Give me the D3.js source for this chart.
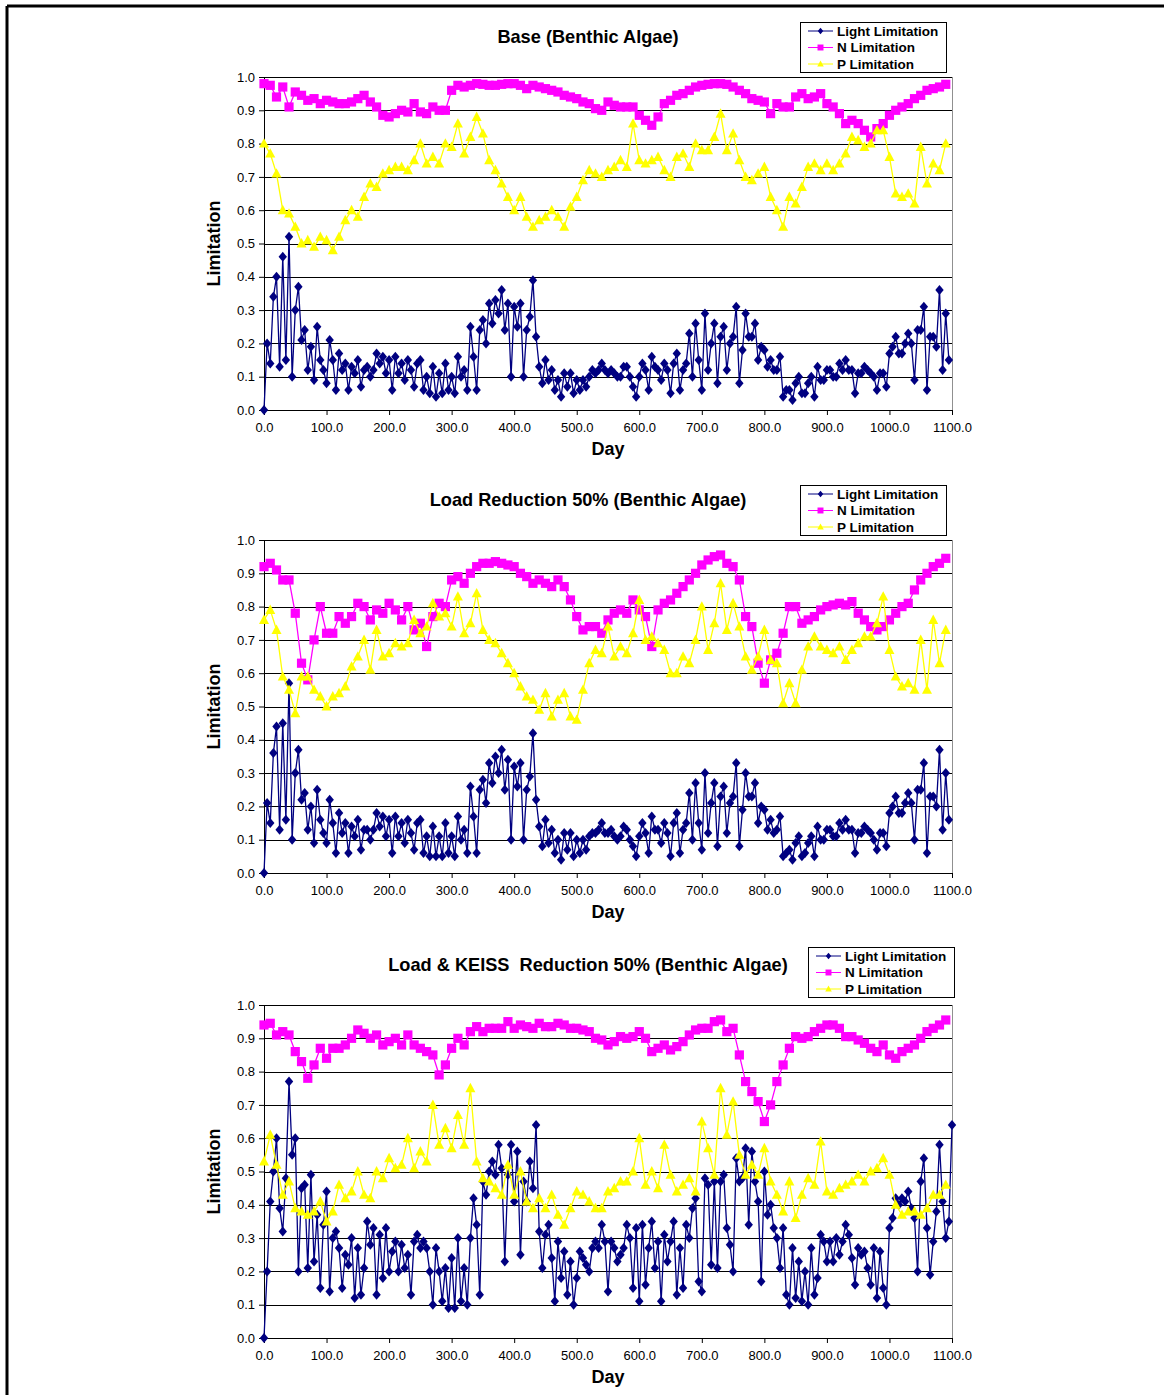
<!DOCTYPE html>
<html>
<head>
<meta charset="utf-8">
<script src="https://cdn.jsdelivr.net/npm/d3@7"></script>
<style>
  body { margin: 0; background: #fff; }
  svg { display: block; font-family: "Liberation Sans", Arial, sans-serif; }
</style>
</head>
<body>
<div id="chart"></div>
<script>
// tick labels and names
var xTicks = [0, 100, 200, 300, 400, 500, 600, 700, 800, 900, 1000, 1100];
var yTicks = [0, 0.1, 0.2, 0.3, 0.4, 0.5, 0.6, 0.7, 0.8, 0.9, 1.0];
var seriesNames = ["Light Limitation", "N Limitation", "P Limitation"];
var titles = ["Base (Benthic Algae)", "Load Reduction 50% (Benthic Algae)", "Load & KEISS  Reduction 50% (Benthic Algae)"];

// days between samples (light read every 5 days, N and P every 10 days)
var lightStep = 5, nutStep = 10;

// ---- Base ----
var baseLight = [
  0.00,0.20,0.14,0.34,0.40,0.13,0.46,0.15,0.52,0.10,
  0.30,0.37,0.21,0.24,0.12,0.19,0.09,0.25,0.15,0.12,
  0.08,0.21,0.15,0.06,0.17,0.12,0.14,0.06,0.13,0.11,
  0.15,0.07,0.12,0.13,0.10,0.12,0.17,0.14,0.16,0.11,
  0.15,0.06,0.16,0.11,0.14,0.09,0.15,0.12,0.07,0.14,
  0.15,0.06,0.10,0.05,0.13,0.04,0.11,0.05,0.14,0.06,
  0.10,0.05,0.16,0.10,0.12,0.06,0.25,0.16,0.06,0.24,
  0.27,0.20,0.32,0.26,0.33,0.29,0.36,0.24,0.32,0.10,
  0.31,0.25,0.32,0.10,0.24,0.28,0.39,0.22,0.13,0.08,
  0.15,0.09,0.12,0.06,0.09,0.04,0.11,0.07,0.11,0.05,
  0.09,0.06,0.09,0.07,0.10,0.12,0.11,0.12,0.14,0.12,
  0.11,0.12,0.11,0.10,0.10,0.13,0.13,0.10,0.07,0.04,
  0.10,0.14,0.12,0.06,0.16,0.13,0.12,0.09,0.14,0.12,
  0.05,0.14,0.17,0.06,0.12,0.14,0.23,0.10,0.26,0.15,
  0.06,0.29,0.12,0.20,0.26,0.08,0.22,0.25,0.12,0.20,
  0.22,0.31,0.08,0.18,0.29,0.22,0.22,0.26,0.15,0.19,
  0.18,0.13,0.15,0.12,0.12,0.16,0.04,0.06,0.06,0.03,
  0.08,0.10,0.05,0.05,0.08,0.10,0.04,0.13,0.09,0.09,
  0.12,0.12,0.10,0.10,0.14,0.12,0.15,0.12,0.12,0.05,
  0.11,0.11,0.13,0.12,0.11,0.10,0.06,0.11,0.11,0.07,
  0.17,0.19,0.22,0.17,0.17,0.20,0.23,0.20,0.09,0.24,
  0.24,0.31,0.06,0.22,0.22,0.19,0.36,0.12,0.29,0.15
];
var baseN = [
  0.98,0.975,0.94,0.97,0.91,0.955,0.945,0.93,0.935,0.92,
  0.93,0.925,0.92,0.92,0.925,0.935,0.945,0.925,0.91,0.885,
  0.88,0.89,0.90,0.895,0.92,0.895,0.89,0.91,0.90,0.90,
  0.96,0.975,0.97,0.975,0.98,0.978,0.975,0.975,0.978,0.98,
  0.98,0.975,0.965,0.975,0.97,0.965,0.96,0.955,0.945,0.94,
  0.935,0.925,0.92,0.905,0.90,0.925,0.915,0.91,0.91,0.91,
  0.885,0.87,0.855,0.88,0.92,0.93,0.945,0.95,0.96,0.97,
  0.975,0.978,0.98,0.98,0.978,0.97,0.96,0.95,0.935,0.93,
  0.925,0.89,0.92,0.91,0.91,0.94,0.95,0.935,0.94,0.95,
  0.92,0.91,0.89,0.86,0.87,0.86,0.84,0.82,0.845,0.86,
  0.885,0.90,0.91,0.92,0.935,0.945,0.96,0.965,0.97,0.978
];
var baseP = [
  0.80,0.77,0.71,0.60,0.59,0.55,0.50,0.51,0.49,0.52,
  0.51,0.48,0.52,0.57,0.60,0.58,0.64,0.68,0.67,0.71,
  0.72,0.73,0.73,0.72,0.75,0.80,0.74,0.76,0.74,0.80,
  0.79,0.86,0.77,0.82,0.88,0.83,0.75,0.72,0.68,0.64,
  0.60,0.64,0.58,0.55,0.57,0.58,0.60,0.58,0.55,0.61,
  0.64,0.69,0.72,0.71,0.70,0.72,0.73,0.75,0.73,0.86,
  0.75,0.74,0.75,0.76,0.72,0.70,0.76,0.77,0.73,0.80,
  0.78,0.78,0.82,0.89,0.78,0.83,0.75,0.70,0.69,0.71,
  0.73,0.64,0.60,0.55,0.64,0.62,0.67,0.73,0.74,0.72,
  0.74,0.72,0.74,0.77,0.82,0.81,0.79,0.80,0.84,0.84,
  0.76,0.65,0.64,0.65,0.62,0.79,0.68,0.74,0.72,0.80
];

// ---- Load Reduction 50% ----
var loadLight = [
  0.00,0.21,0.15,0.36,0.44,0.13,0.45,0.16,0.57,0.10,
  0.30,0.37,0.22,0.24,0.13,0.20,0.09,0.25,0.16,0.12,
  0.09,0.22,0.15,0.06,0.18,0.12,0.15,0.06,0.14,0.11,
  0.16,0.07,0.13,0.13,0.10,0.13,0.18,0.14,0.17,0.11,
  0.16,0.06,0.17,0.11,0.15,0.09,0.16,0.12,0.07,0.15,
  0.16,0.06,0.11,0.05,0.14,0.05,0.11,0.05,0.15,0.06,
  0.11,0.05,0.17,0.10,0.13,0.06,0.26,0.17,0.06,0.25,
  0.28,0.21,0.33,0.27,0.35,0.30,0.37,0.25,0.34,0.10,
  0.32,0.26,0.33,0.10,0.25,0.29,0.42,0.22,0.14,0.08,
  0.16,0.09,0.13,0.06,0.10,0.04,0.12,0.07,0.12,0.05,
  0.10,0.06,0.10,0.07,0.11,0.12,0.12,0.13,0.15,0.12,
  0.12,0.13,0.11,0.10,0.11,0.14,0.13,0.10,0.08,0.05,
  0.11,0.15,0.12,0.06,0.17,0.13,0.13,0.09,0.15,0.12,
  0.05,0.15,0.18,0.06,0.13,0.15,0.24,0.10,0.27,0.15,
  0.07,0.30,0.12,0.21,0.27,0.08,0.23,0.26,0.12,0.21,
  0.23,0.33,0.08,0.19,0.30,0.23,0.23,0.27,0.15,0.20,
  0.19,0.13,0.16,0.12,0.13,0.17,0.05,0.06,0.07,0.04,
  0.09,0.11,0.05,0.06,0.09,0.11,0.05,0.14,0.10,0.10,
  0.13,0.13,0.11,0.11,0.15,0.13,0.16,0.13,0.13,0.06,
  0.12,0.12,0.14,0.13,0.12,0.10,0.07,0.12,0.12,0.08,
  0.18,0.20,0.23,0.18,0.18,0.21,0.24,0.21,0.10,0.25,
  0.25,0.33,0.06,0.23,0.23,0.20,0.37,0.13,0.30,0.16
];
var loadN = [
  0.92,0.93,0.91,0.88,0.88,0.78,0.63,0.58,0.70,0.80,
  0.72,0.72,0.77,0.75,0.77,0.81,0.80,0.76,0.79,0.78,
  0.81,0.79,0.76,0.80,0.73,0.75,0.68,0.77,0.81,0.80,
  0.88,0.89,0.87,0.90,0.92,0.93,0.93,0.935,0.93,0.925,
  0.92,0.90,0.89,0.87,0.88,0.87,0.86,0.88,0.86,0.82,
  0.77,0.73,0.74,0.74,0.72,0.76,0.78,0.79,0.78,0.82,
  0.79,0.77,0.68,0.79,0.81,0.82,0.84,0.86,0.88,0.90,
  0.925,0.94,0.95,0.955,0.93,0.92,0.88,0.77,0.74,0.63,
  0.57,0.64,0.66,0.72,0.80,0.80,0.75,0.76,0.77,0.79,
  0.80,0.805,0.81,0.805,0.815,0.78,0.76,0.74,0.73,0.74,
  0.76,0.78,0.80,0.81,0.85,0.88,0.90,0.92,0.93,0.945
];
var loadP = [
  0.76,0.79,0.73,0.59,0.55,0.48,0.59,0.59,0.55,0.53,
  0.50,0.53,0.54,0.56,0.62,0.65,0.70,0.61,0.73,0.65,
  0.66,0.69,0.68,0.69,0.76,0.72,0.74,0.81,0.77,0.78,
  0.74,0.83,0.72,0.75,0.84,0.73,0.70,0.69,0.66,0.63,
  0.60,0.56,0.53,0.52,0.49,0.54,0.47,0.52,0.54,0.47,
  0.46,0.55,0.63,0.67,0.66,0.74,0.65,0.68,0.66,0.72,
  0.82,0.70,0.71,0.69,0.67,0.60,0.60,0.65,0.63,0.70,
  0.80,0.67,0.75,0.87,0.73,0.81,0.74,0.65,0.61,0.65,
  0.73,0.64,0.63,0.51,0.57,0.51,0.61,0.68,0.71,0.68,
  0.67,0.66,0.68,0.64,0.67,0.69,0.71,0.71,0.75,0.83,
  0.67,0.59,0.56,0.57,0.55,0.70,0.55,0.76,0.63,0.73
];

// ---- Load & KEISS Reduction 50% ----
var keissLight = [
  0.00,0.20,0.41,0.50,0.60,0.39,0.32,0.48,0.77,0.55,
  0.60,0.20,0.45,0.46,0.21,0.49,0.23,0.37,0.15,0.34,
  0.44,0.14,0.30,0.32,0.27,0.15,0.25,0.22,0.30,0.12,
  0.27,0.13,0.21,0.35,0.28,0.33,0.13,0.31,0.18,0.33,
  0.20,0.26,0.29,0.20,0.28,0.21,0.25,0.13,0.29,0.31,
  0.27,0.29,0.27,0.20,0.10,0.27,0.20,0.11,0.21,0.09,
  0.24,0.09,0.30,0.11,0.21,0.10,0.30,0.42,0.34,0.13,
  0.47,0.43,0.50,0.53,0.49,0.58,0.51,0.23,0.49,0.58,
  0.41,0.56,0.25,0.47,0.41,0.53,0.45,0.64,0.32,0.21,
  0.31,0.34,0.24,0.11,0.29,0.18,0.26,0.13,0.23,0.10,
  0.18,0.26,0.24,0.22,0.20,0.27,0.29,0.27,0.34,0.29,
  0.14,0.29,0.27,0.23,0.25,0.27,0.34,0.30,0.15,0.33,
  0.11,0.34,0.16,0.27,0.35,0.21,0.29,0.11,0.31,0.23,
  0.29,0.35,0.13,0.27,0.15,0.34,0.30,0.39,0.42,0.17,
  0.14,0.48,0.46,0.22,0.47,0.21,0.47,0.49,0.33,0.28,
  0.20,0.54,0.47,0.48,0.57,0.34,0.56,0.47,0.41,0.17,
  0.50,0.37,0.40,0.33,0.30,0.21,0.33,0.13,0.10,0.27,
  0.12,0.23,0.11,0.20,0.10,0.27,0.13,0.18,0.31,0.29,
  0.23,0.29,0.23,0.30,0.25,0.29,0.34,0.31,0.24,0.16,
  0.27,0.25,0.26,0.21,0.16,0.27,0.12,0.26,0.15,0.10,
  0.33,0.36,0.42,0.40,0.42,0.41,0.44,0.39,0.36,0.20,
  0.47,0.54,0.33,0.19,0.29,0.38,0.58,0.41,0.30,0.35,
  0.64
];
var keissN = [
  0.94,0.945,0.91,0.92,0.91,0.86,0.83,0.78,0.82,0.87,
  0.84,0.87,0.87,0.88,0.90,0.925,0.915,0.90,0.91,0.88,
  0.89,0.90,0.88,0.91,0.88,0.87,0.86,0.85,0.79,0.82,
  0.87,0.90,0.88,0.92,0.935,0.92,0.93,0.93,0.93,0.95,
  0.93,0.94,0.935,0.93,0.945,0.935,0.935,0.945,0.94,0.93,
  0.93,0.925,0.92,0.90,0.895,0.88,0.89,0.905,0.90,0.905,
  0.92,0.90,0.86,0.87,0.88,0.865,0.875,0.89,0.91,0.925,
  0.93,0.93,0.95,0.955,0.92,0.93,0.85,0.77,0.74,0.71,
  0.65,0.70,0.77,0.82,0.87,0.905,0.90,0.905,0.92,0.93,
  0.94,0.94,0.93,0.905,0.905,0.895,0.885,0.87,0.86,0.88,
  0.85,0.84,0.86,0.87,0.88,0.90,0.92,0.93,0.94,0.955
];
var keissP = [
  0.53,0.61,0.52,0.43,0.47,0.39,0.38,0.37,0.38,0.41,
  0.35,0.38,0.46,0.42,0.44,0.50,0.43,0.42,0.50,0.48,
  0.54,0.51,0.52,0.60,0.51,0.56,0.53,0.70,0.58,0.63,
  0.57,0.67,0.58,0.75,0.53,0.48,0.47,0.45,0.43,0.52,
  0.43,0.50,0.41,0.39,0.42,0.39,0.43,0.37,0.34,0.39,
  0.44,0.43,0.41,0.39,0.39,0.44,0.45,0.47,0.47,0.50,
  0.60,0.46,0.50,0.45,0.58,0.49,0.44,0.46,0.48,0.44,
  0.65,0.57,0.49,0.75,0.61,0.71,0.55,0.49,0.52,0.49,
  0.57,0.47,0.43,0.38,0.47,0.36,0.43,0.48,0.46,0.59,
  0.44,0.43,0.45,0.46,0.47,0.49,0.47,0.50,0.51,0.54,
  0.49,0.40,0.37,0.38,0.38,0.37,0.39,0.43,0.43,0.46
];

var width = 1164, height = 1395;
var plotLeft = 264, plotRight = 952, plotH = 333;
var colors = ["#000080", "#ff00ff", "#ffff00"];

var panels = [
  {title: titles[0], top: 77,   legX: 800, legY: 22,  series: [baseLight, baseN, baseP]},
  {title: titles[1], top: 540,  legX: 800, legY: 485, series: [loadLight, loadN, loadP]},
  {title: titles[2], top: 1005, legX: 808, legY: 947, series: [keissLight, keissN, keissP]}
];

var svg = d3.select("#chart").append("svg")
    .attr("width", width)
    .attr("height", height);

// page frame (left and top edges only)
svg.append("line").attr("x1", 7).attr("y1", 6).attr("x2", width).attr("y2", 6)
  .attr("stroke", "#000").attr("stroke-width", 3);
svg.append("line").attr("x1", 7).attr("y1", 6).attr("x2", 7).attr("y2", height)
  .attr("stroke", "#000").attr("stroke-width", 3);

var x = d3.scaleLinear().domain([0, 1100]).range([plotLeft, plotRight]);

// marker shapes
function markerPath(k) {
  if (k == 0) return "M0,-5L4.2,0L0,5L-4.2,0Z";
  if (k == 1) return "M-4.6,-4.6H4.6V4.6H-4.6Z";
  return "M0,-5.4L5,4L-5,4Z";
}

panels.forEach(function(p) {
  var y = d3.scaleLinear().domain([0, 1]).range([p.top + plotH, p.top]);
  var g = svg.append("g");

  // gridlines
  g.append("g").selectAll("line")
    .data(yTicks.slice(1))
    .enter().append("line")
      .attr("x1", plotLeft).attr("x2", plotRight)
      .attr("y1", function(d) { return Math.round(y(d)) + 0.5; })
      .attr("y2", function(d) { return Math.round(y(d)) + 0.5; })
      .attr("stroke", "#000").attr("stroke-width", 1);

  // right border of plot area
  g.append("line")
    .attr("x1", plotRight + 0.5).attr("x2", plotRight + 0.5)
    .attr("y1", p.top).attr("y2", p.top + plotH)
    .attr("stroke", "#909090");

  // axes
  var yAxis = g.append("g")
    .attr("transform", "translate(" + plotLeft + ",0)")
    .call(d3.axisLeft(y).tickValues(yTicks).tickFormat(d3.format(".1f"))
      .tickSizeInner(5).tickSizeOuter(0).tickPadding(4));
  var xAxis = g.append("g")
    .attr("transform", "translate(0," + (p.top + plotH) + ")")
    .call(d3.axisBottom(x).tickValues(xTicks).tickFormat(d3.format(".1f"))
      .tickSizeInner(5).tickSizeOuter(0).tickPadding(8));
  [xAxis, yAxis].forEach(function(a) {
    a.attr("font-family", null).attr("font-size", null);
    a.selectAll("text").attr("font-size", "13px").attr("fill", "#000");
    a.selectAll("line, path").attr("stroke", "#000");
  });

  // series: light first, then N, then P on top
  p.series.forEach(function(vals, k) {
    var step = k == 0 ? lightStep : nutStep;
    var line = d3.line()
      .x(function(d, i) { return x(i * step); })
      .y(function(d) { return y(d); });
    var sg = g.append("g");
    sg.append("path")
      .datum(vals)
      .attr("d", line)
      .attr("fill", "none")
      .attr("stroke", colors[k])
      .attr("stroke-width", 1.3);
    sg.selectAll("path.m")
      .data(vals)
      .enter().append("path")
        .attr("class", "m")
        .attr("d", markerPath(k))
        .attr("transform", function(d, i) { return "translate(" + x(i * step) + "," + y(d) + ")"; })
        .attr("fill", colors[k]);
  });

  // title
  g.append("text")
    .attr("x", 588).attr("y", p.top - 40)
    .attr("dy", "0.35em")
    .attr("text-anchor", "middle")
    .style("white-space", "pre")
    .attr("font-size", "18.2px").attr("font-weight", "bold")
    .text(p.title);

  // axis titles
  g.append("text")
    .attr("x", 608).attr("y", p.top + plotH + 39)
    .attr("dy", "0.35em")
    .attr("text-anchor", "middle")
    .attr("font-size", "18px").attr("font-weight", "bold")
    .text("Day");
  g.append("text")
    .attr("transform", "translate(214," + (p.top + plotH / 2) + ") rotate(-90)")
    .attr("dy", "0.35em")
    .attr("text-anchor", "middle")
    .attr("font-size", "18px").attr("font-weight", "bold")
    .text("Limitation");

  // legend
  var leg = g.append("g").attr("transform", "translate(" + p.legX + "," + p.legY + ")");
  leg.append("rect")
    .attr("x", 0.5).attr("y", 0.5)
    .attr("width", 146).attr("height", 50)
    .attr("fill", "#fff").attr("stroke", "#000");
  var items = leg.selectAll("g.item")
    .data(seriesNames)
    .enter().append("g")
      .attr("class", "item")
      .attr("transform", function(d, i) { return "translate(0," + (9 + i * 16.5) + ")"; });
  items.append("line")
    .attr("x1", 8).attr("x2", 33)
    .attr("stroke", function(d, i) { return colors[i]; });
  items.append("path")
    .attr("d", function(d, i) { return markerPath(i); })
    .attr("transform", "translate(20.5,0) scale(0.65)")
    .attr("fill", function(d, i) { return colors[i]; });
  items.append("text")
    .attr("x", 37).attr("dy", "0.35em")
    .attr("font-size", "13.5px").attr("font-weight", "bold")
    .text(function(d) { return d; });
});
</script>
</body>
</html>
